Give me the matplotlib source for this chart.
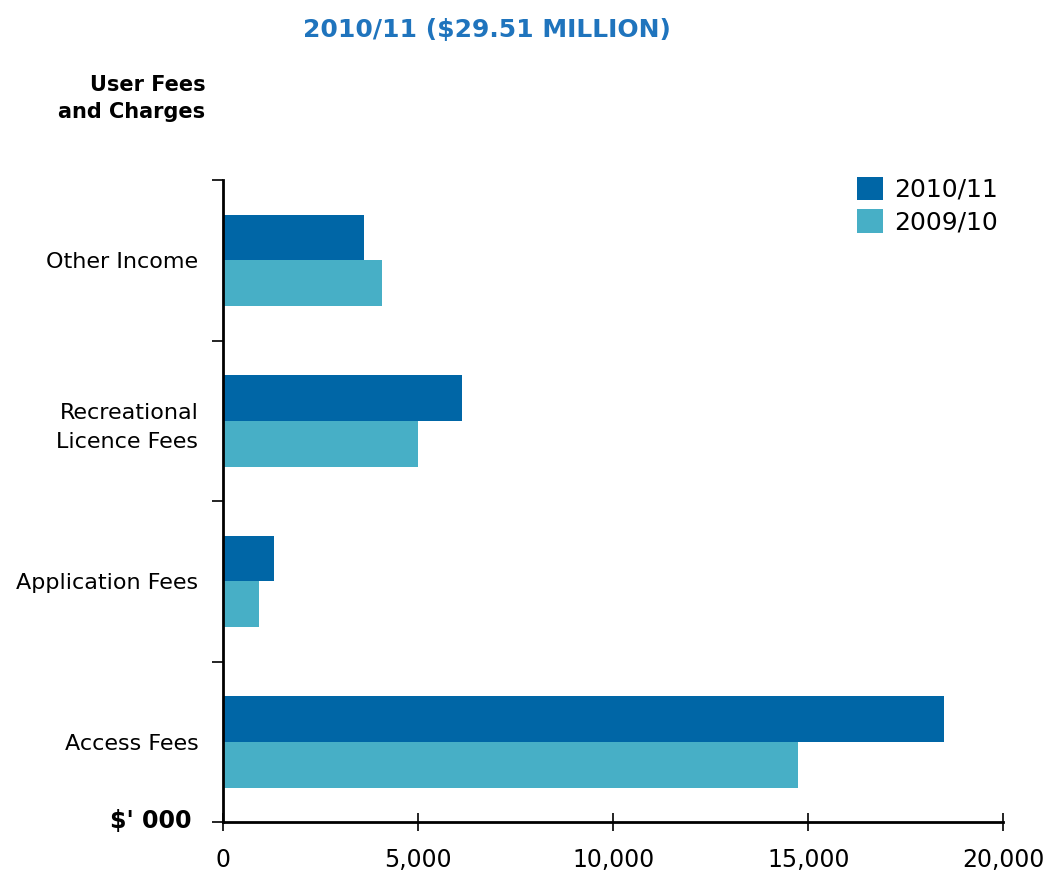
import matplotlib.pyplot as plt
import numpy as np

categories = ['Access Fees', 'Application Fees', 'Recreational\nLicence Fees', 'Other Income']
fees_2010_11 = [18490, 1300, 6120, 3600]
fees_2009_10 = [14730, 915, 4990, 4070]
x_ticks = [0, 5000, 10000, 15000, 20000]

dark_blue = '#0066a6'
light_blue = '#47afc6'

fig = plt.figure(figsize=(10.48, 8.73), dpi=100)
ax = fig.add_axes([0.2131, 0.0584, 0.7442, 0.7354])

y = np.arange(len(categories))
h = 0.285
ax.barh(y + h / 2, fees_2010_11, height=h, color=dark_blue, label='2010/11')
ax.barh(y - h / 2, fees_2009_10, height=h, color=light_blue, label='2009/10')

ax.set_xlim(0, 20000)
ax.set_ylim(-0.5, len(categories) - 0.5)

# category names sit between the boundary ticks
ax.set_yticks(np.arange(-0.5, len(categories), 1.0))
ax.set_yticklabels([])
ax.set_yticks(y, minor=True)
ax.set_yticklabels(categories, minor=True, fontsize=16, ha='right',
                   linespacing=1.55)
ax.tick_params(axis='y', which='minor', length=0, pad=18)
ax.tick_params(axis='y', which='major', length=8, width=1.2, direction='out')

ax.set_xticks(x_ticks)
ax.set_xticklabels([f'{v:,}' for v in x_ticks], fontsize=17)
ax.tick_params(axis='x', length=13, width=1.2, direction='inout', pad=12)

for s in ['top', 'right']:
    ax.spines[s].set_visible(False)
for s in ['left', 'bottom']:
    ax.spines[s].set_linewidth(2)

ax.legend(loc='upper right', bbox_to_anchor=(1.022, 1.04), frameon=False,
          fontsize=18, handlelength=1.05, handleheight=1.05,
          handletextpad=0.45, labelspacing=0.3)

fig.text(0.465, 0.966, '2010/11 ($29.51 MILLION)', color='#1f74bd',
         fontsize=18, fontweight='bold', ha='center', va='center')
fig.text(0.196, 0.887, 'User Fees\nand Charges', color='black',
         fontsize=15, fontweight='bold', ha='right', va='center',
         linespacing=1.4)
fig.text(0.183, 0.0596, "$' 000", color='black', fontsize=17,
         fontweight='bold', ha='right', va='center')

fig.savefig('out.png', dpi=100)
